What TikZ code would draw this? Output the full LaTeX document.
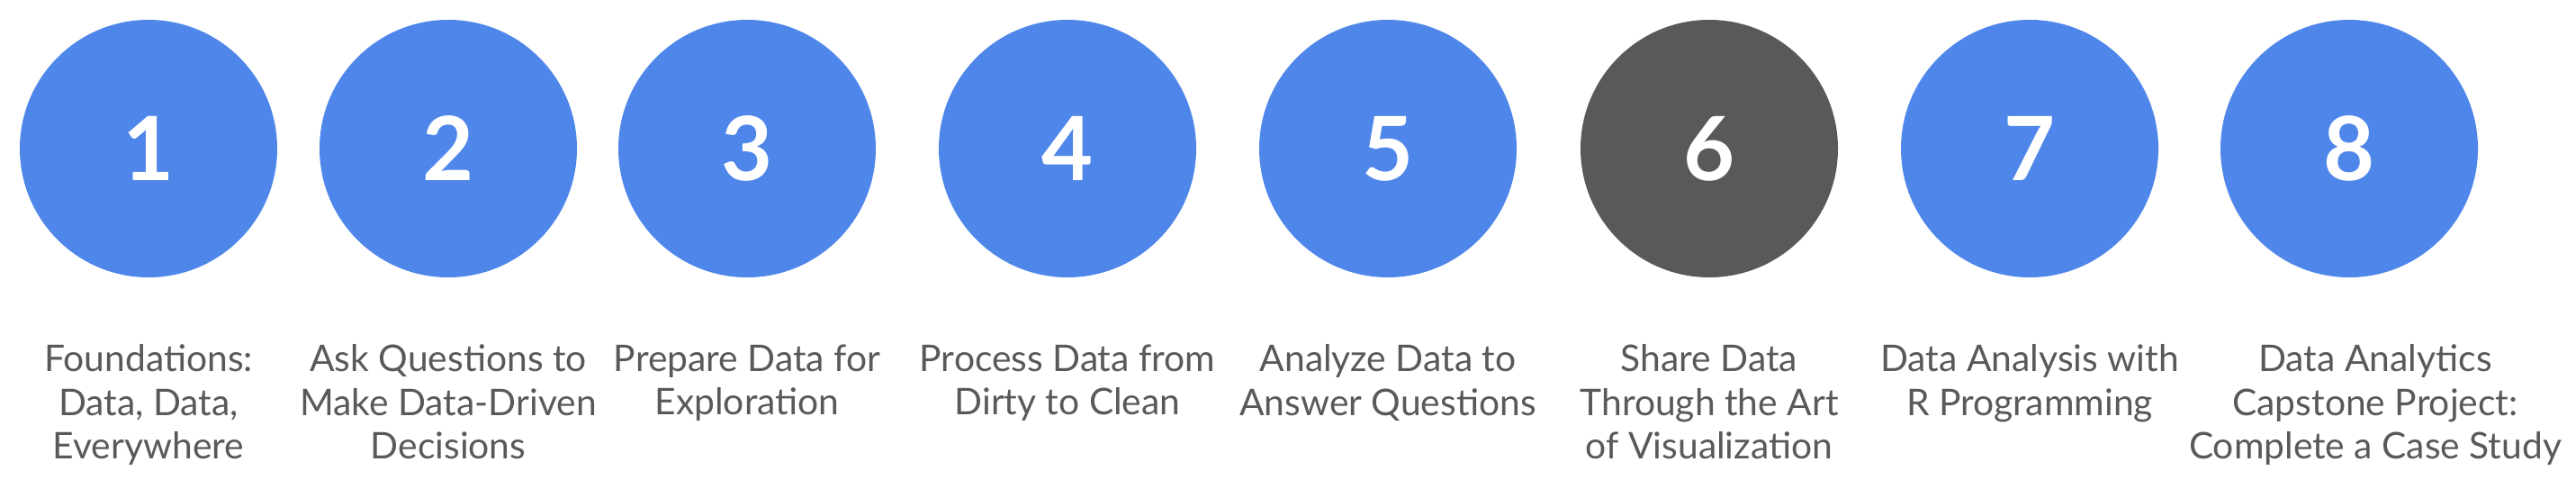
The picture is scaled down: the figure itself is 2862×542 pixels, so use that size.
\documentclass[tikz,border=0pt]{standalone}
\usepackage{fontspec}
\setmainfont{Lato}
\definecolor{stepblue}{HTML}{4F86EA}
\definecolor{stepgrey}{HTML}{595959}
\tikzset{
  course/.style={circle, fill=stepblue, minimum size=28.6mm, inner sep=0pt,
    text=white, font=\fontsize{28}{30}\selectfont\bfseries},
  current/.style={course, fill=stepgrey},
  caption/.style={anchor=north, align=center, text=stepgrey, inner sep=0pt,
    font=\fontsize{11.6}{13.8}\selectfont}
}
\begin{document}
\begin{tikzpicture}[x=0.1mm, y=-0.1mm]
  \useasboundingbox (0, 0) rectangle (2862, 542);

  \node[course] (c1) at (165, 165) {1};
  \node[course] (c2) at (498, 165) {2};
  \node[course] (c3) at (830, 165) {3};
  \node[course] (c4) at (1186, 165) {4};
  \node[course] (c5) at (1542, 165) {5};
  \node[current] (c6) at (1899, 165) {6};
  \node[course] (c7) at (2255, 165) {7};
  \node[course] (c8) at (2610, 165) {8};

  \node[caption] (t1) at (165, 382) {Foundations:\\Data, Data,\\Everywhere};
  \node[caption] (t2) at (498, 382) {Ask Questions to\\Make Data-Driven\\Decisions};
  \node[caption] (t3) at (830, 382) {Prepare Data for\\Exploration};
  \node[caption] (t4) at (1186, 382) {Process Data from\\Dirty to Clean};
  \node[caption] (t5) at (1542, 382) {Analyze Data to\\Answer Questions};
  \node[caption] (t6) at (1899, 382) {Share Data\\Through the Art\\of Visualization};
  \node[caption] (t7) at (2255, 382) {Data Analysis with\\R Programming};
  \node[caption] (t8) at (2639, 382) {Data Analytics\\Capstone Project:\\Complete a Case Study};
\end{tikzpicture}
\end{document}
